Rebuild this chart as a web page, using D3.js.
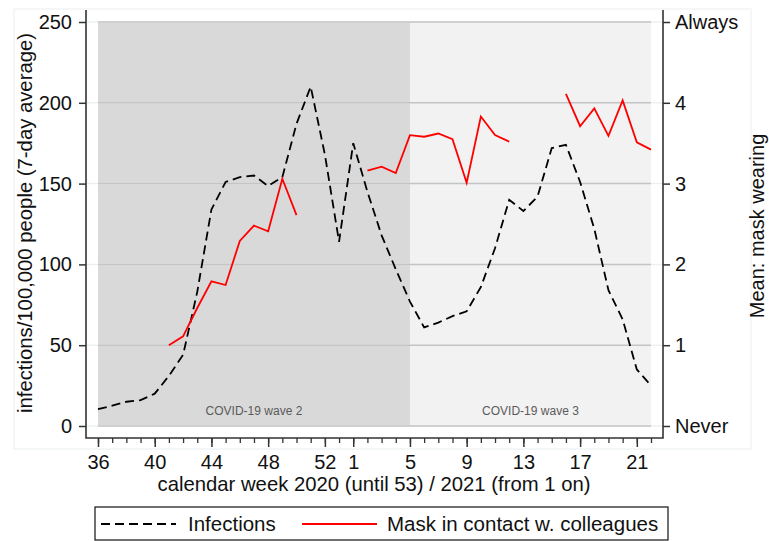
<!DOCTYPE html>
<html>
<head>
<meta charset="utf-8">
<script src="https://cdn.jsdelivr.net/npm/d3@7"></script>
<style>
  body { margin: 0; background: #fff; }
  svg { font-family: "Liberation Sans", Arial, sans-serif; }
</style>
</head>
<body>
<svg id="chart" width="769" height="541"></svg>
<script>
// calendar weeks, 2020 wk 36 .. 2021 wk 22
const weeks = [36, 37, 38, 39, 40, 41, 42, 43, 44, 45, 46, 47, 48, 49, 50, 51, 52, 53,
  1, 2, 3, 4, 5, 6, 7, 8, 9, 10, 11, 12, 13, 14, 15, 16, 17, 18, 19, 20, 21, 22];

// infections per 100,000 (7-day average), left axis
const infections = [10.4, 12.6, 15, 16, 20, 31, 44, 83, 134, 151, 154, 155, 148.5, 154, 187, 210, 168, 114,
  175, 145, 118, 97, 77, 61, 64, 68, 71, 86, 110, 140, 133, 142, 172, 174, 151, 122, 84, 66, 35, 25];

// mean mask wearing with colleagues (0 = never, 5 = always), right axis
const maskColleagues = [null, null, null, null, null, 1.0, 1.11, 1.46, 1.79, 1.745, 2.29, 2.48, 2.41, 3.06, 2.61, null, null, null,
  null, 3.16, 3.21, 3.13, 3.6, 3.58, 3.62, 3.55, 3.01, 3.83, 3.6, 3.52, null, null, null, 4.11, 3.71, 3.93, 3.59, 4.03, 3.51, 3.42];

const xTickWeeks = [36, 40, 44, 48, 52, 1, 5, 9, 13, 17, 21];
const leftTicks = [0, 50, 100, 150, 200, 250];
const rightTicks = [0, 1, 2, 3, 4, 5];
const rightLabels = ["Never", "1", "2", "3", "4", "Always"];

// waves as [first index, last index]
const waves = [
  { name: "COVID-19 wave 2", from: 0, to: 22, fill: "#d9d9d9" },
  { name: "COVID-19 wave 3", from: 22, to: 39, fill: "#f2f2f2" }
];

const legendItems = [
  { label: "Infections", color: "#000", dash: "9,5" },
  { label: "Mask in contact w. colleagues", color: "#ff0000", dash: null }
];

const svg = d3.select("#chart");

const plot = { left: 98, right: 651, top: 22, bottom: 426 };
const axisX = 86, axisRightX = 663, axisY = 438, axisTop = 10;

const x = d3.scaleLinear()
  .domain([0, weeks.length - 1])
  .range([plot.left, plot.right]);

const yLeft = d3.scaleLinear()
  .domain([0, 250])
  .range([plot.bottom, plot.top]);

const yRight = d3.scaleLinear()
  .domain([0, 5])
  .range([plot.bottom, plot.top]);

// faint outer frame
svg.append("rect")
  .attr("x", 14).attr("y", 9)
  .attr("width", 737).attr("height", 440)
  .attr("fill", "none")
  .attr("stroke", "#f1f4f6")
  .attr("stroke-width", 1.5);

// wave backgrounds
svg.append("g")
  .selectAll("rect")
  .data(waves)
  .join("rect")
  .attr("x", d => x(d.from))
  .attr("y", plot.top)
  .attr("width", d => x(d.to) - x(d.from))
  .attr("height", plot.bottom - plot.top)
  .attr("fill", d => d.fill);

// gridlines
const grid = svg.append("g");
grid.selectAll("line.ext")
  .data(leftTicks)
  .join("line")
  .attr("class", "ext")
  .attr("x1", axisX).attr("x2", axisRightX)
  .attr("y1", d => yLeft(d)).attr("y2", d => yLeft(d))
  .attr("stroke", "#eaf1f5")
  .attr("stroke-width", 1.5);
grid.selectAll("line.g")
  .data(leftTicks)
  .join("line")
  .attr("class", "g")
  .attr("x1", plot.left).attr("x2", plot.right)
  .attr("y1", d => yLeft(d)).attr("y2", d => yLeft(d))
  .attr("stroke", "#c4c4c4")
  .attr("stroke-width", 1.5);

// wave labels
svg.append("g")
  .selectAll("text")
  .data(waves)
  .join("text")
  .attr("x", d => (x(d.from) + x(d.to)) / 2)
  .attr("y", 415)
  .attr("text-anchor", "middle")
  .attr("fill", "#5a5a5a")
  .style("font-size", "12px")
  .text(d => d.name);

// lines
const infLine = d3.line()
  .x((d, i) => x(i))
  .y(d => yLeft(d));

svg.append("path")
  .datum(infections)
  .attr("fill", "none")
  .attr("stroke", "#000")
  .attr("stroke-width", 1.8)
  .attr("stroke-dasharray", "9,5")
  .attr("d", infLine);

const maskLine = d3.line()
  .defined(d => d !== null)
  .x((d, i) => x(i))
  .y(d => yRight(d));

svg.append("path")
  .datum(maskColleagues)
  .attr("fill", "none")
  .attr("stroke", "#ff0000")
  .attr("stroke-width", 1.8)
  .attr("d", maskLine);

// axes
const axisColor = "#333";

svg.append("g")
  .attr("transform", `translate(${axisX},0)`)
  .call(d3.axisLeft(yLeft).tickValues(leftTicks).tickSize(7).tickPadding(7).tickSizeOuter(0))
  .call(g => g.select(".domain").remove())
  .call(g => g.selectAll("line").attr("stroke", axisColor).attr("stroke-width", 1.5))
  .call(g => g.selectAll("text").attr("fill", "#111").style("font-size", "20px"));

svg.append("g")
  .attr("transform", `translate(${axisRightX},0)`)
  .call(d3.axisRight(yRight).tickValues(rightTicks).tickSize(7).tickPadding(5).tickSizeOuter(0)
    .tickFormat((d, i) => rightLabels[i]))
  .call(g => g.select(".domain").remove())
  .call(g => g.selectAll("line").attr("stroke", axisColor).attr("stroke-width", 1.5))
  .call(g => g.selectAll("text").attr("fill", "#111").style("font-size", "20px"));

// minor x ticks
svg.append("g")
  .attr("transform", `translate(0,${axisY})`)
  .call(d3.axisBottom(x).tickValues(d3.range(weeks.length)).tickSize(5).tickFormat(""))
  .call(g => g.select(".domain").remove())
  .call(g => g.selectAll("line").attr("stroke", axisColor).attr("stroke-width", 1.3));

// major x ticks
svg.append("g")
  .attr("transform", `translate(0,${axisY})`)
  .call(d3.axisBottom(x)
    .tickValues(xTickWeeks.map(w => weeks.indexOf(w)))
    .tickSize(9).tickPadding(8)
    .tickFormat(i => weeks[i]))
  .call(g => g.select(".domain").remove())
  .call(g => g.selectAll("line").attr("stroke", axisColor).attr("stroke-width", 1.5))
  .call(g => g.selectAll("text").attr("fill", "#111").style("font-size", "20px"));

// axis lines
svg.append("path")
  .attr("d", `M${axisX},${axisTop}V${axisY}H${axisRightX}V${axisTop}`)
  .attr("fill", "none")
  .attr("stroke", axisColor)
  .attr("stroke-width", 1.6);

// titles
svg.append("text")
  .attr("transform", "translate(32,223) rotate(-90)")
  .attr("text-anchor", "middle")
  .attr("fill", "#111")
  .style("font-size", "20.3px")
  .text("infections/100,000 people (7-day average)");

svg.append("text")
  .attr("transform", "translate(764,226) rotate(-90)")
  .attr("text-anchor", "middle")
  .attr("fill", "#111")
  .style("font-size", "20px")
  .text("Mean: mask wearing");

svg.append("text")
  .attr("x", 374)
  .attr("y", 491)
  .attr("text-anchor", "middle")
  .attr("fill", "#111")
  .style("font-size", "20.3px")
  .text("calendar week 2020 (until 53) / 2021 (from 1 on)");

// legend
const legend = svg.append("g");
legend.append("rect")
  .attr("x", 95).attr("y", 507)
  .attr("width", 573).attr("height", 33)
  .attr("fill", "#fff")
  .attr("stroke", "#111")
  .attr("stroke-width", 1.2);

const legendX = [{ lx: 101, tx: 188 }, { lx: 302, tx: 387 }];
legendItems.forEach((d, i) => {
  legend.append("line")
    .attr("x1", legendX[i].lx).attr("x2", legendX[i].lx + 75)
    .attr("y1", 524).attr("y2", 524)
    .attr("stroke", d.color)
    .attr("stroke-width", 1.8)
    .attr("stroke-dasharray", d.dash);
  legend.append("text")
    .attr("x", legendX[i].tx)
    .attr("y", 531)
    .attr("fill", "#111")
    .style("font-size", "20.5px")
    .text(d.label);
});
</script>
</body>
</html>
